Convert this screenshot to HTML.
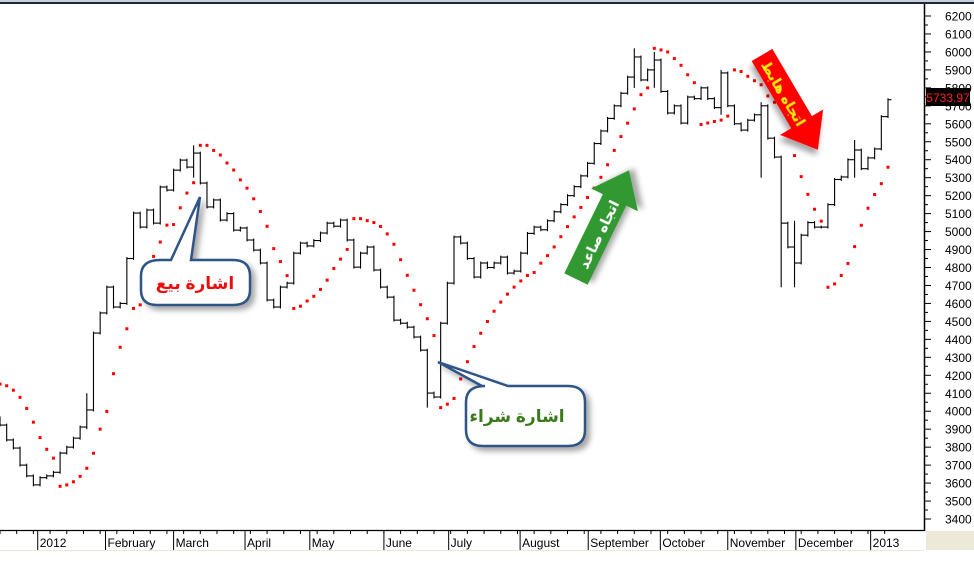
<!DOCTYPE html>
<html><head><meta charset="utf-8"><style>
body{margin:0;background:#fff;width:974px;height:570px;overflow:hidden;font-family:"Liberation Sans","Noto Sans CJK SC",sans-serif}
svg{display:block}
</style></head><body>
<svg id="chart" width="974" height="570">
<rect x="0" y="0" width="974" height="570" fill="#fff"/>
<rect x="0" y="0" width="974" height="2" fill="#c8d0dc"/>
<rect x="0" y="2" width="974" height="2" fill="#1c2a3c"/>
<g id="bars"></g>
<g id="sar"></g>
<g id="yaxis"></g>
<g id="xaxis"></g>
<defs>
<filter id="sh" x="-20%" y="-20%" width="150%" height="150%"><feDropShadow dx="4" dy="4" stdDeviation="3" flood-color="#000" flood-opacity="0.35"/></filter>
</defs>
<g filter="url(#sh)">
<path d="M160,260 L171,260 L200,197 L191,260 L233,260 Q250,260 250,276 L250,290 Q250,305 233,305 L157,305 Q141,305 141,290 L141,276 Q141,260 160,260 Z" fill="#fff" stroke="#2d5486" stroke-width="2.5"/>
<text x="195" y="289" text-anchor="middle" font-size="17" font-weight="bold" fill="#ee1111" font-family="'Liberation Sans','DejaVu Sans',sans-serif">اشارة بيع</text>
</g>
<g filter="url(#sh)">
<path d="M485,386 L482,386 L438,362 L508,386 L568,386 Q585,386 585,402 L585,430 Q585,446 568,446 L483,446 Q466,446 466,430 L466,402 Q466,386 485,386 Z" fill="#fff" stroke="#2d5486" stroke-width="2.5"/>
<text x="517" y="422" text-anchor="middle" font-size="17" font-weight="bold" fill="#3a7a1a" font-family="'Liberation Sans','DejaVu Sans',sans-serif">اشارة شراء</text>
</g>
<g transform="translate(576,279) rotate(-64)" filter="url(#sh)">
<polygon points="0,-13 88,-13 88,-26 121,0 88,26 88,13 0,13" fill="#339933"/>
<text x="50" y="6" text-anchor="middle" font-size="14" font-weight="bold" fill="#fff" font-family="'Liberation Sans','DejaVu Sans',sans-serif">اتجاه صاعد</text>
</g>
<g transform="translate(762,55) rotate(59.5)" filter="url(#sh)">
<polygon points="0,-12 78,-12 78,-25 110,0 78,25 78,12 0,12" fill="#ff0000"/>
<text x="44" y="6" text-anchor="middle" font-size="14" font-weight="bold" fill="#ffee00" font-family="'Liberation Sans','DejaVu Sans',sans-serif">اتجاه هابط</text>
</g>
<rect x="926" y="88" width="44" height="18" fill="#000"/>
<text x="948" y="102" text-anchor="middle" font-size="12" fill="#ff2020">5733.97</text>
</svg>
<script>
const closes=[3923,3840,3795,3700,3640,3590,3630,3640,3660,3767,3800,3850,3912,4007,4435,4547,4691,4580,4600,4850,5103,5025,5120,5047,5248,5231,5342,5398,5359,5437,5270,5137,5176,5064,5100,5008,5020,4953,4897,4825,4619,4580,4691,4713,4880,4936,4920,4950,4992,5047,5030,5064,4953,4802,4880,4914,4786,4691,4635,4507,4490,4468,4413,4340,4101,4079,4490,4713,4970,4936,4850,4747,4825,4800,4825,4858,4769,4780,4880,4990,5025,5010,5060,5110,5150,5200,5250,5310,5380,5490,5560,5630,5700,5770,5860,5972,5844,5900,5955,5780,5660,5700,5604,5749,5740,5800,5740,5690,5883,5700,5600,5565,5620,5650,5700,5520,5415,5047,4914,4825,4980,5050,5025,5025,5150,5290,5304,5400,5454,5350,5410,5460,5640,5734];
const wickIdx=[13,29,64,95,98,108,114,117,119,128];
const wickLow=[3900,5300,4020,5800,5800,5650,5300,4690,4690,5300];
const wickHigh=[4100,5480,4150,6020,6000,5900,5720,5100,5060,5510];
const yTicks=[3400,3500,3600,3700,3800,3900,4000,4100,4200,4300,4400,4500,4600,4700,4800,4900,5000,5100,5200,5300,5400,5500,5600,5700,5800,5900,6000,6100,6200];
const monthLabels=["2012","February","March","April","May","June","July","August","September","October","November","December","2013"];
const monthBarIdx=[5.65,15.8,26.0,36.7,46.4,57.5,67.2,77.9,88.1,98.9,109.0,119.2,130.4];
const NS="http://www.w3.org/2000/svg";
const step=888/(closes.length-1);
function xS(i){return i*step;}
function yS(v){return 16+(6200-v)*503/2800;}
function mk(t,a,p){const e=document.createElementNS(NS,t);for(const k in a)e.setAttribute(k,a[k]);p.appendChild(e);return e;}
const bars=document.getElementById('bars');
const hi=[],lo=[];
for(let i=0;i<closes.length;i++){
  const o=i?closes[i-1]:closes[i]+40,c=closes[i],x=xS(i);
  let h=Math.max(o,c)+8,l=Math.min(o,c)-8;
  const w=wickIdx.indexOf(i);
  if(w>=0){h=Math.max(h,wickHigh[w]);l=Math.min(l,wickLow[w]);}
  hi.push(h);lo.push(l);
  const g=mk('g',{},bars);
  
  
  mk('line',{x1:x,x2:x,y1:yS(h),y2:yS(l),stroke:'#000','stroke-width':1.1},g);
  mk('line',{x1:x-3.4,x2:x,y1:yS(o),y2:yS(o),stroke:'#000','stroke-width':1.1},g);
  mk('line',{x1:x,x2:x+3.4,y1:yS(c),y2:yS(c),stroke:'#000','stroke-width':1.1},g);
}
let up=false,af=0.04,ep=lo[0],sar=hi[0]+180;const sarV=[sar];
for(let i=1;i<closes.length;i++){
  sar=sar+af*(ep-sar);
  if(up){sar=Math.min(sar,lo[i-1],i>1?lo[i-2]:lo[i-1]);
    if(lo[i]<sar){up=false;sar=ep;ep=lo[i];af=0.04;}
    else if(hi[i]>ep){ep=hi[i];af=Math.min(af+0.04,0.3);}
  }else{sar=Math.max(sar,hi[i-1],i>1?hi[i-2]:hi[i-1]);
    if(hi[i]>sar){up=true;sar=ep;ep=hi[i];af=0.04;}
    else if(lo[i]<ep){ep=lo[i];af=Math.min(af+0.04,0.3);}
  }
  sarV.push(sar);
}
const sg=document.getElementById('sar');
for(let i=0;i<sarV.length;i++){
  const d=mk('rect',{x:xS(i)-1.5,y:yS(sarV[i])-1.5,width:3,height:3,fill:'#ff0000'},sg);
  
  
}
const ya=document.getElementById('yaxis');
mk('rect',{x:924,y:4,width:50,height:527,fill:'#fff'},ya);
mk('line',{x1:924.5,x2:924.5,y1:4,y2:531,stroke:'#000','stroke-width':1.5},ya);
for(const v of yTicks){
  const y=yS(v);
  mk('line',{x1:924,x2:931,y1:y,y2:y,stroke:'#000'},ya);
  if(v<6200)mk('line',{x1:924,x2:928,y1:yS(v+50),y2:yS(v+50),stroke:'#000'},ya);
  const t=mk('text',{x:945,y:y+4.5,'font-size':12,fill:'#000'},ya);t.textContent=v;
  
  
}
const xa=document.getElementById('xaxis');
mk('line',{x1:0,x2:924,y1:530.5,y2:530.5,stroke:'#000','stroke-width':1.2},xa);
mk('line',{x1:0,x2:924,y1:550.5,y2:550.5,stroke:'#ece9d8'},xa);
mk('rect',{x:926,y:531,width:48,height:19,fill:'#ece9d8'},xa);
for(let i=0;i<closes.length;i+=2.5){mk('line',{x1:xS(i),x2:xS(i),y1:531,y2:534,stroke:'#000'},xa);}
monthLabels.forEach((m,k)=>{
  const x=xS(monthBarIdx[k]);
  mk('line',{x1:x,x2:x,y1:531,y2:550,stroke:'#000'},xa);
  const t=mk('text',{x:x+2,y:547,'font-size':12,fill:'#000'},xa);t.textContent=m;
  
  
});
</script>
</body></html>
